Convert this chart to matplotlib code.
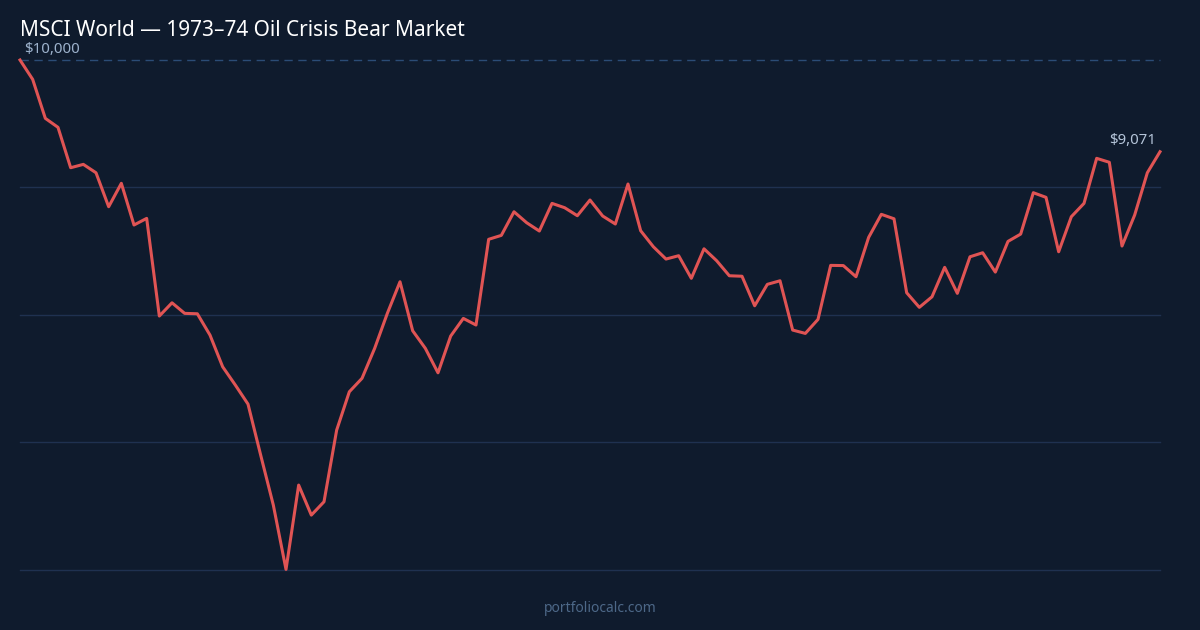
import numpy as np
import matplotlib
matplotlib.use('Agg')
import matplotlib.pyplot as plt

# monthly portfolio value, $10,000 start
values = [10000, 9804, 9409, 9318, 8909, 8943, 8858, 8514, 8751, 8329,
          8396, 7407, 7541, 7434, 7430, 7214, 6893, 6708, 6515, 5999,
          5492, 4841, 5695, 5391, 5526, 6252, 6640, 6776, 7080, 7434,
          7754, 7258, 7080, 6832, 7204, 7383, 7316, 8184, 8224, 8463,
          8352, 8268, 8548, 8504, 8423, 8582, 8420, 8339, 8744, 8271,
          8109, 7984, 8018, 7789, 8088, 7967, 7815, 7810, 7511, 7728,
          7764, 7265, 7231, 7373, 7920, 7918, 7805, 8204, 8437, 8392,
          7643, 7495, 7602, 7900, 7637, 8007, 8048, 7852, 8163, 8237,
          8656, 8609, 8058, 8413, 8548, 9004, 8964, 8116, 8430, 8858,
          9071]
start_value = 10000
title = 'MSCI World \u2014 1973\u201374 Oil Crisis Bear Market'

bg = '#0f1b2d'
plt.rcParams['font.family'] = ['Noto Sans', 'DejaVu Sans']

fig = plt.figure(figsize=(12, 6.3), dpi=100, facecolor=bg)
ax = fig.add_axes([20/1200, 60/630, 1140/1200, 510/630])
ax.set_facecolor(bg)

x = np.arange(len(values))
lo = min(values) - 6
ax.set_xlim(0, len(values) - 1)
ax.set_ylim(lo, start_value)

grid = np.linspace(lo, start_value, 5)
for g in grid[:-1]:
    ax.axhline(g, color='#1f3150', lw=1, zorder=1, clip_on=False)
ax.axhline(start_value, color='#2b4c76', lw=1, ls=(0, (6, 4)), zorder=1, clip_on=False)

ax.plot(x, values, color='#e05454', lw=2.2, zorder=3, clip_on=False)

for s in ax.spines.values():
    s.set_visible(False)
ax.set_xticks([])
ax.set_yticks([])

fig.text(20/1200, 1 - 31/630, title, color='white', fontsize=15, va='center', ha='left')
ax.annotate('${:,}'.format(start_value), (0, start_value), xytext=(3, 2), textcoords='offset points',
            color='#9db2cc', fontsize=10.8, ha='left', va='bottom', annotation_clip=False)
ax.annotate('${:,}'.format(values[-1]), (len(values) - 1, values[-1]), xytext=(-3, 3),
            textcoords='offset points', color='#b4c4d8', fontsize=10.8, ha='right', va='bottom',
            annotation_clip=False)
fig.text(0.5, 1 - 608/630, 'portfoliocalc.com', color='#4d6888', fontsize=10, ha='center', va='center')

fig.savefig('out.png', dpi=100, facecolor=bg)
